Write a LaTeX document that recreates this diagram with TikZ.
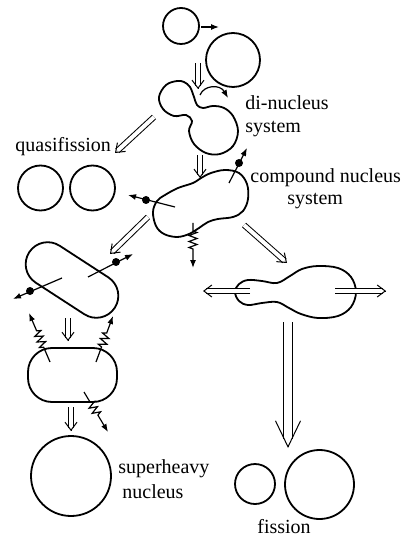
\documentclass[tikz,border=0pt]{standalone}
\usepackage{fontspec}
\setmainfont{Liberation Serif}
\usetikzlibrary{arrows.meta,calc,decorations.pathmorphing}

\tikzset{
  twin/.style={double, double distance=2pt, line width=0.5pt, shorten >=1.6pt},
  twin head/.style={line width=0.5pt, -{Straight Barb[length=4pt,width=6pt]}},
  bigtwin/.style={double, double distance=4pt, line width=0.5pt, shorten >=4.6pt},
  bigtwin head/.style={line width=0.5pt, -{Straight Barb[length=13pt,width=12.5pt]}},
  nucl/.style={line width=0.9pt},
  ray/.style={line width=0.6pt, -{Latex[length=4pt,width=3pt]}},
  gamma/.style={ray, decorate, decoration={zigzag, segment length=3pt, amplitude=2pt, pre length=4pt, post length=9pt}},
  lbl/.style={anchor=base west, inner sep=0pt, font=\fontsize{10}{12}\selectfont},
}
% double-line arrow with an open head
\newcommand\twinarrow[3][twin]{%
  \draw[#1] (#2) -- (#3);
  \draw[#1 head] ($(#3)!0.3pt!(#2)$) -- (#3);
}
% emitted particle: line, dot, arrow
\newcommand\particle[3]{%
  \draw[ray] (#1) -- (#3);
  \fill (#2) circle (2pt);
}

\begin{document}
\begin{tikzpicture}[x=0.5pt, y=-0.5pt]
  \useasboundingbox (0,0) rectangle (403,539);

  % projectile and target
  \draw[nucl] (181,26) circle (9pt);
  \draw[ray] (201,27) -- (219,27);
  \draw[nucl] (233,60) circle (13.5pt);
  \twinarrow{198,63}{198,89}

  % di-nucleus
  \draw[nucl] plot[smooth cycle, tension=0.6] coordinates {(177,81) (166,85) (159,97) (163,109) (174,116) (186,115) (192,121) (189,131) (194,144) (206,153) (220,154) (233,146) (238,131) (233,116) (224,108) (213,106) (203,108) (197,105) (194,97) (190,87) (184,82)};
  \draw[ray] (200,95) .. controls (204,85) and (220,84) .. (228,98);
  \node[lbl] at (245,110) {di-nucleus};
  \node[lbl] at (245,133) {system};

  % quasifission
  \twinarrow{154,117}{115,153}
  \node[lbl] at (15,152) {quasifission};
  \draw[nucl] (40.5,188) circle (11.25pt);
  \draw[nucl] (92.5,188) circle (11.25pt);

  % compound nucleus
  \twinarrow{200,155}{200,178}
  \draw[nucl] plot[smooth cycle, tension=0.6] coordinates {(153,212) (157,201) (165,195) (178,188) (193,183) (201,178) (211,173) (225,170) (239,173) (247,184) (248,199) (243,211) (233,217) (218,219) (208,222) (199,228) (189,234) (177,237) (164,234) (156,226)};
  \particle{175,207}{146,200}{128,195}
  \particle{229,183}{239,163}{247,148}
  \draw[gamma] (193,223) -- (193,268);
  \node[lbl] at (250,183) {compound nucleus};
  \node[lbl] at (287,205) {system};

  % cooling down to the superheavy nucleus
  \twinarrow{148,217}{110,254}
  \begin{scope}[shift={(72,280)}, rotate=-33]
    \draw[nucl, rounded corners=11pt] (-51,-22) rectangle (51,22);
  \end{scope}
  \particle{62,278}{30,291}{13,299}
  \particle{88,277}{116,262}{133,254}
  \twinarrow{68,318}{68,341}
  \draw[nucl, rounded corners=12pt] (28,348) rectangle (117,402);
  \draw[gamma, decoration={pre length=8pt}] (50,362) -- (29,313);
  \draw[gamma, decoration={pre length=8pt}] (96,362) -- (113,316);
  \draw[gamma, decoration={pre length=6pt}] (84,392) -- (108,432);
  \twinarrow{71,407}{71,431}
  \draw[nucl] (71,476) circle (20pt);
  \node[lbl] at (118,473) {superheavy};
  \node[lbl] at (122,498) {nucleus};

  % fission branch
  \twinarrow{244,225}{287,263}
  \draw[nucl] plot[smooth cycle, tension=0.6] coordinates {(235,292) (239,284) (248,280) (262,281) (277,283) (290,276) (302,269) (318,266) (338,268) (351,277) (356,292) (351,307) (338,316) (318,318) (301,314) (289,308) (277,302) (262,303) (248,305) (239,301)};
  \twinarrow{250,291}{203,291}
  \twinarrow{335,291}{386,291}
  \twinarrow[bigtwin]{288,322}{288,448}
  \draw[nucl] (255,484) circle (10pt);
  \draw[nucl] (319.5,484.5) circle (17.25pt);
  \node[lbl] at (257,533) {fission};
\end{tikzpicture}
\end{document}
